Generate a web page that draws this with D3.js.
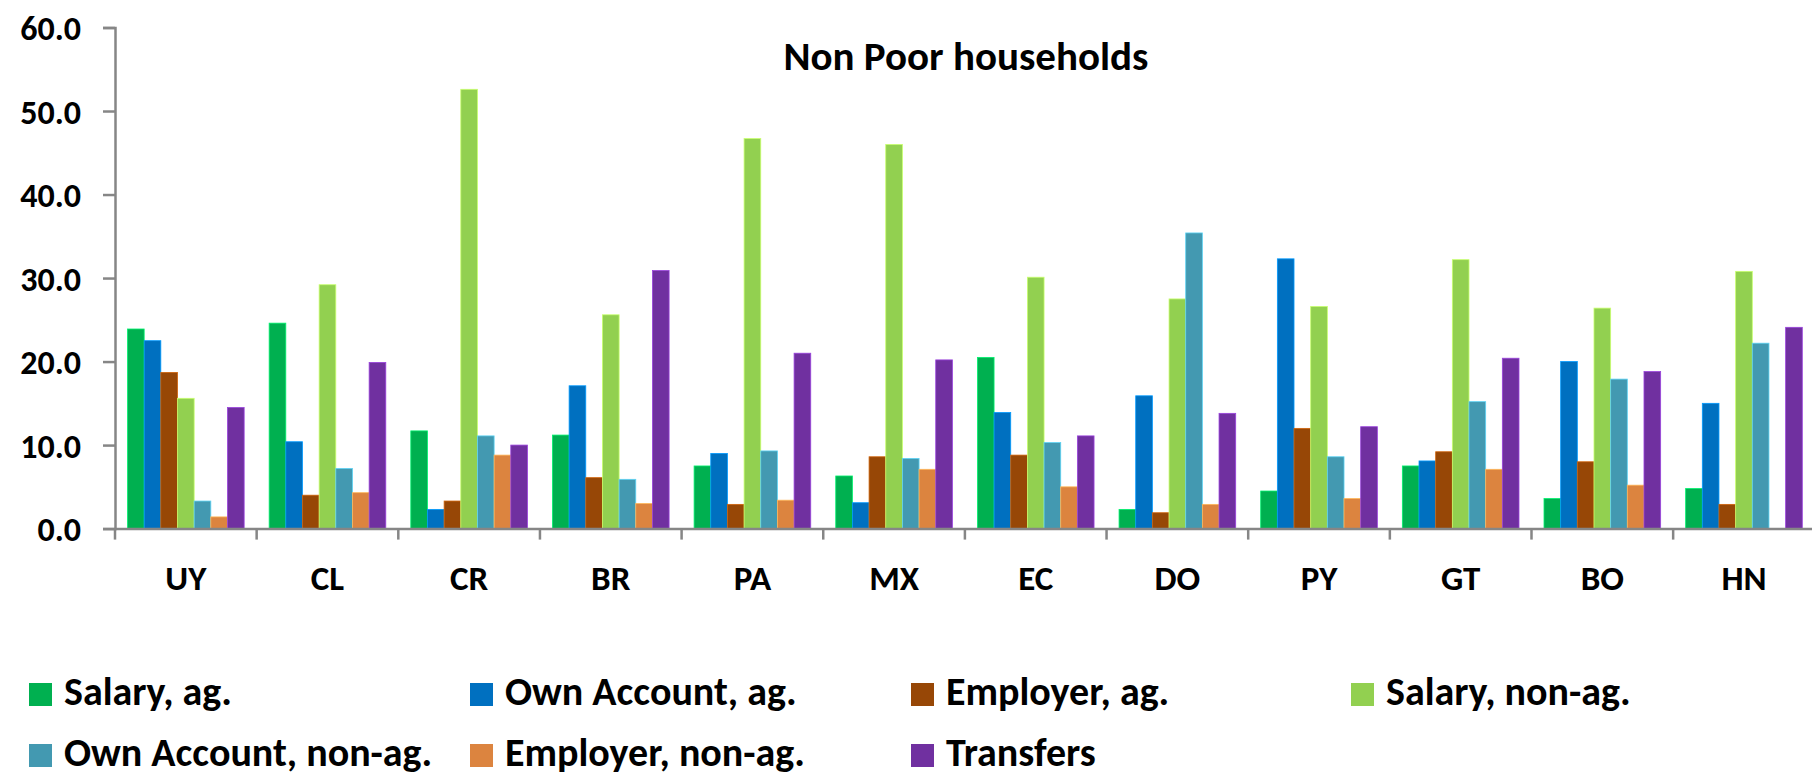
<!DOCTYPE html>
<html>
<head>
<meta charset="utf-8">
<script src="https://cdn.jsdelivr.net/npm/d3@7"></script>
<style>
    body { margin: 0; background: #fff; }
    svg { display: block; }
    text { font-family: Carlito, Calibri, Lato, sans-serif; font-weight: bold; fill: #000; }
</style>
</head>
<body>
<svg id="chart" width="1812" height="777"></svg>
<script>
// ============================================================================
// data

var countries = ["UY", "CL", "CR", "BR", "PA", "MX", "EC", "DO", "PY", "GT", "BO", "HN"];
var seriesNames = ["Salary, ag.", "Own Account, ag.", "Employer, ag.", "Salary, non-ag.",
    "Own Account, non-ag.", "Employer, non-ag.", "Transfers"];
var salaryAg = [23.9, 24.6, 11.7, 11.2, 7.5, 6.3, 20.5, 2.3, 4.5, 7.5, 3.6, 4.8];
var ownAccountAg = [22.5, 10.4, 2.3, 17.1, 9.0, 3.1, 13.9, 15.9, 32.3, 8.1, 20.0, 15.0];
var employerAg = [18.7, 4.0, 3.3, 6.1, 2.9, 8.6, 8.8, 1.9, 12.0, 9.2, 8.0, 2.9];
var salaryNonAg = [15.6, 29.2, 52.6, 25.6, 46.7, 46.0, 30.1, 27.5, 26.6, 32.2, 26.4, 30.8];
var ownAccountNonAg = [3.3, 7.2, 11.1, 5.9, 9.3, 8.4, 10.3, 35.4, 8.6, 15.2, 17.9, 22.2];
var employerNonAg = [1.4, 4.3, 8.8, 3.0, 3.4, 7.1, 5.0, 2.9, 3.6, 7.1, 5.2, null];
var transfers = [14.5, 19.9, 10.0, 30.9, 21.0, 20.2, 11.1, 13.8, 12.2, 20.4, 18.8, 24.1];
var yTicks = [0, 10, 20, 30, 40, 50, 60];
var colors = ["#00B050", "#0070C0", "#974706", "#92D050", "#4399B1", "#DC843F", "#7030A0"];

var series = [salaryAg, ownAccountAg, employerAg, salaryNonAg, ownAccountNonAg, employerNonAg, transfers];

// ============================================================================

var svg = d3.select("#chart");
var x0 = 115, x1 = 115 + 12 * 141.65;

var xScale = d3.scaleBand()
    .domain(countries)
    .range([x0, x1])
    .padding(0);
var yScale = d3.scaleLinear()
    .domain([0, 60])
    .range([528.6, 27.5]);
// excel style: gap width 150% of one bar
var barW = xScale.bandwidth() / 8.5;
var inner = d3.scaleBand()
    .domain(d3.range(series.length))
    .range([0.75 * barW, 0.75 * barW + series.length * barW])
    .padding(0);

var rows = [];
series.forEach(function (vals, si) {
    vals.forEach(function (v, ci) {
        if (v != null) rows.push({ s: si, c: countries[ci], v: v });
    });
});

svg.append("g")
    .selectAll("rect")
    .data(rows)
    .enter()
    .append("rect")
    .attr("x", (d) => xScale(d.c) + inner(d.s))
    .attr("y", (d) => yScale(d.v))
    .attr("width", inner.bandwidth())
    .attr("height", (d) => yScale(0) - yScale(d.v))
    .attr("fill", (d) => colors[d.s])
    .attr("stroke", (d) => d3.color(colors[d.s]).brighter(0.9))
    .attr("stroke-width", 0.8);

// ---------------------------------------------------------------------------
// axes

var yAxis = d3.axisLeft(yScale)
    .tickValues(yTicks)
    .tickFormat(d3.format(".1f"))
    .tickSize(12)
    .tickPadding(22);
var gy = svg.append("g")
    .attr("transform", `translate(${x0},0)`)
    .call(yAxis);
gy.selectAll("text")
    .style("font-size", "34px")
    .attr("dy", "0.36em");

var xAxis = d3.axisBottom(xScale)
    .tickSize(0)
    .tickPadding(37);
var gx = svg.append("g")
    .attr("transform", `translate(0,${yScale(0)})`)
    .call(xAxis);
gx.selectAll("text")
    .style("font-size", "35px")
    .attr("dy", "0.71em");
gx.selectAll(".bound")
    .data(countries.concat([null]))
    .enter()
    .append("line")
    .attr("class", "bound")
    .attr("x1", (d, i) => x0 + i * xScale.step())
    .attr("x2", (d, i) => x0 + i * xScale.step())
    .attr("y1", 0)
    .attr("y2", 11);

svg.selectAll(".domain, .tick line, .bound")
    .attr("stroke", "#868686")
    .attr("stroke-width", 2.5);
svg.selectAll(".tick text").style("font-family", null).attr("fill", "#000");

// ---------------------------------------------------------------------------
// title + legend

svg.append("text")
    .attr("x", 966)
    .attr("y", 70)
    .attr("text-anchor", "middle")
    .style("font-size", "41px")
    .text("Non Poor households");

var legendX = [29, 470, 911, 1351];
var legendY = [683, 744];
var legend = svg.append("g")
    .selectAll("g")
    .data(seriesNames)
    .enter()
    .append("g")
    .attr("transform", (d, i) => `translate(${legendX[i % 4]},${legendY[Math.floor(i / 4)]})`);
legend.append("rect")
    .attr("width", 23)
    .attr("height", 23)
    .attr("fill", (d, i) => colors[i]);
legend.append("text")
    .attr("x", 35)
    .attr("y", 22)
    .style("font-size", "40px")
    .text((d) => d);
</script>
</body>
</html>
